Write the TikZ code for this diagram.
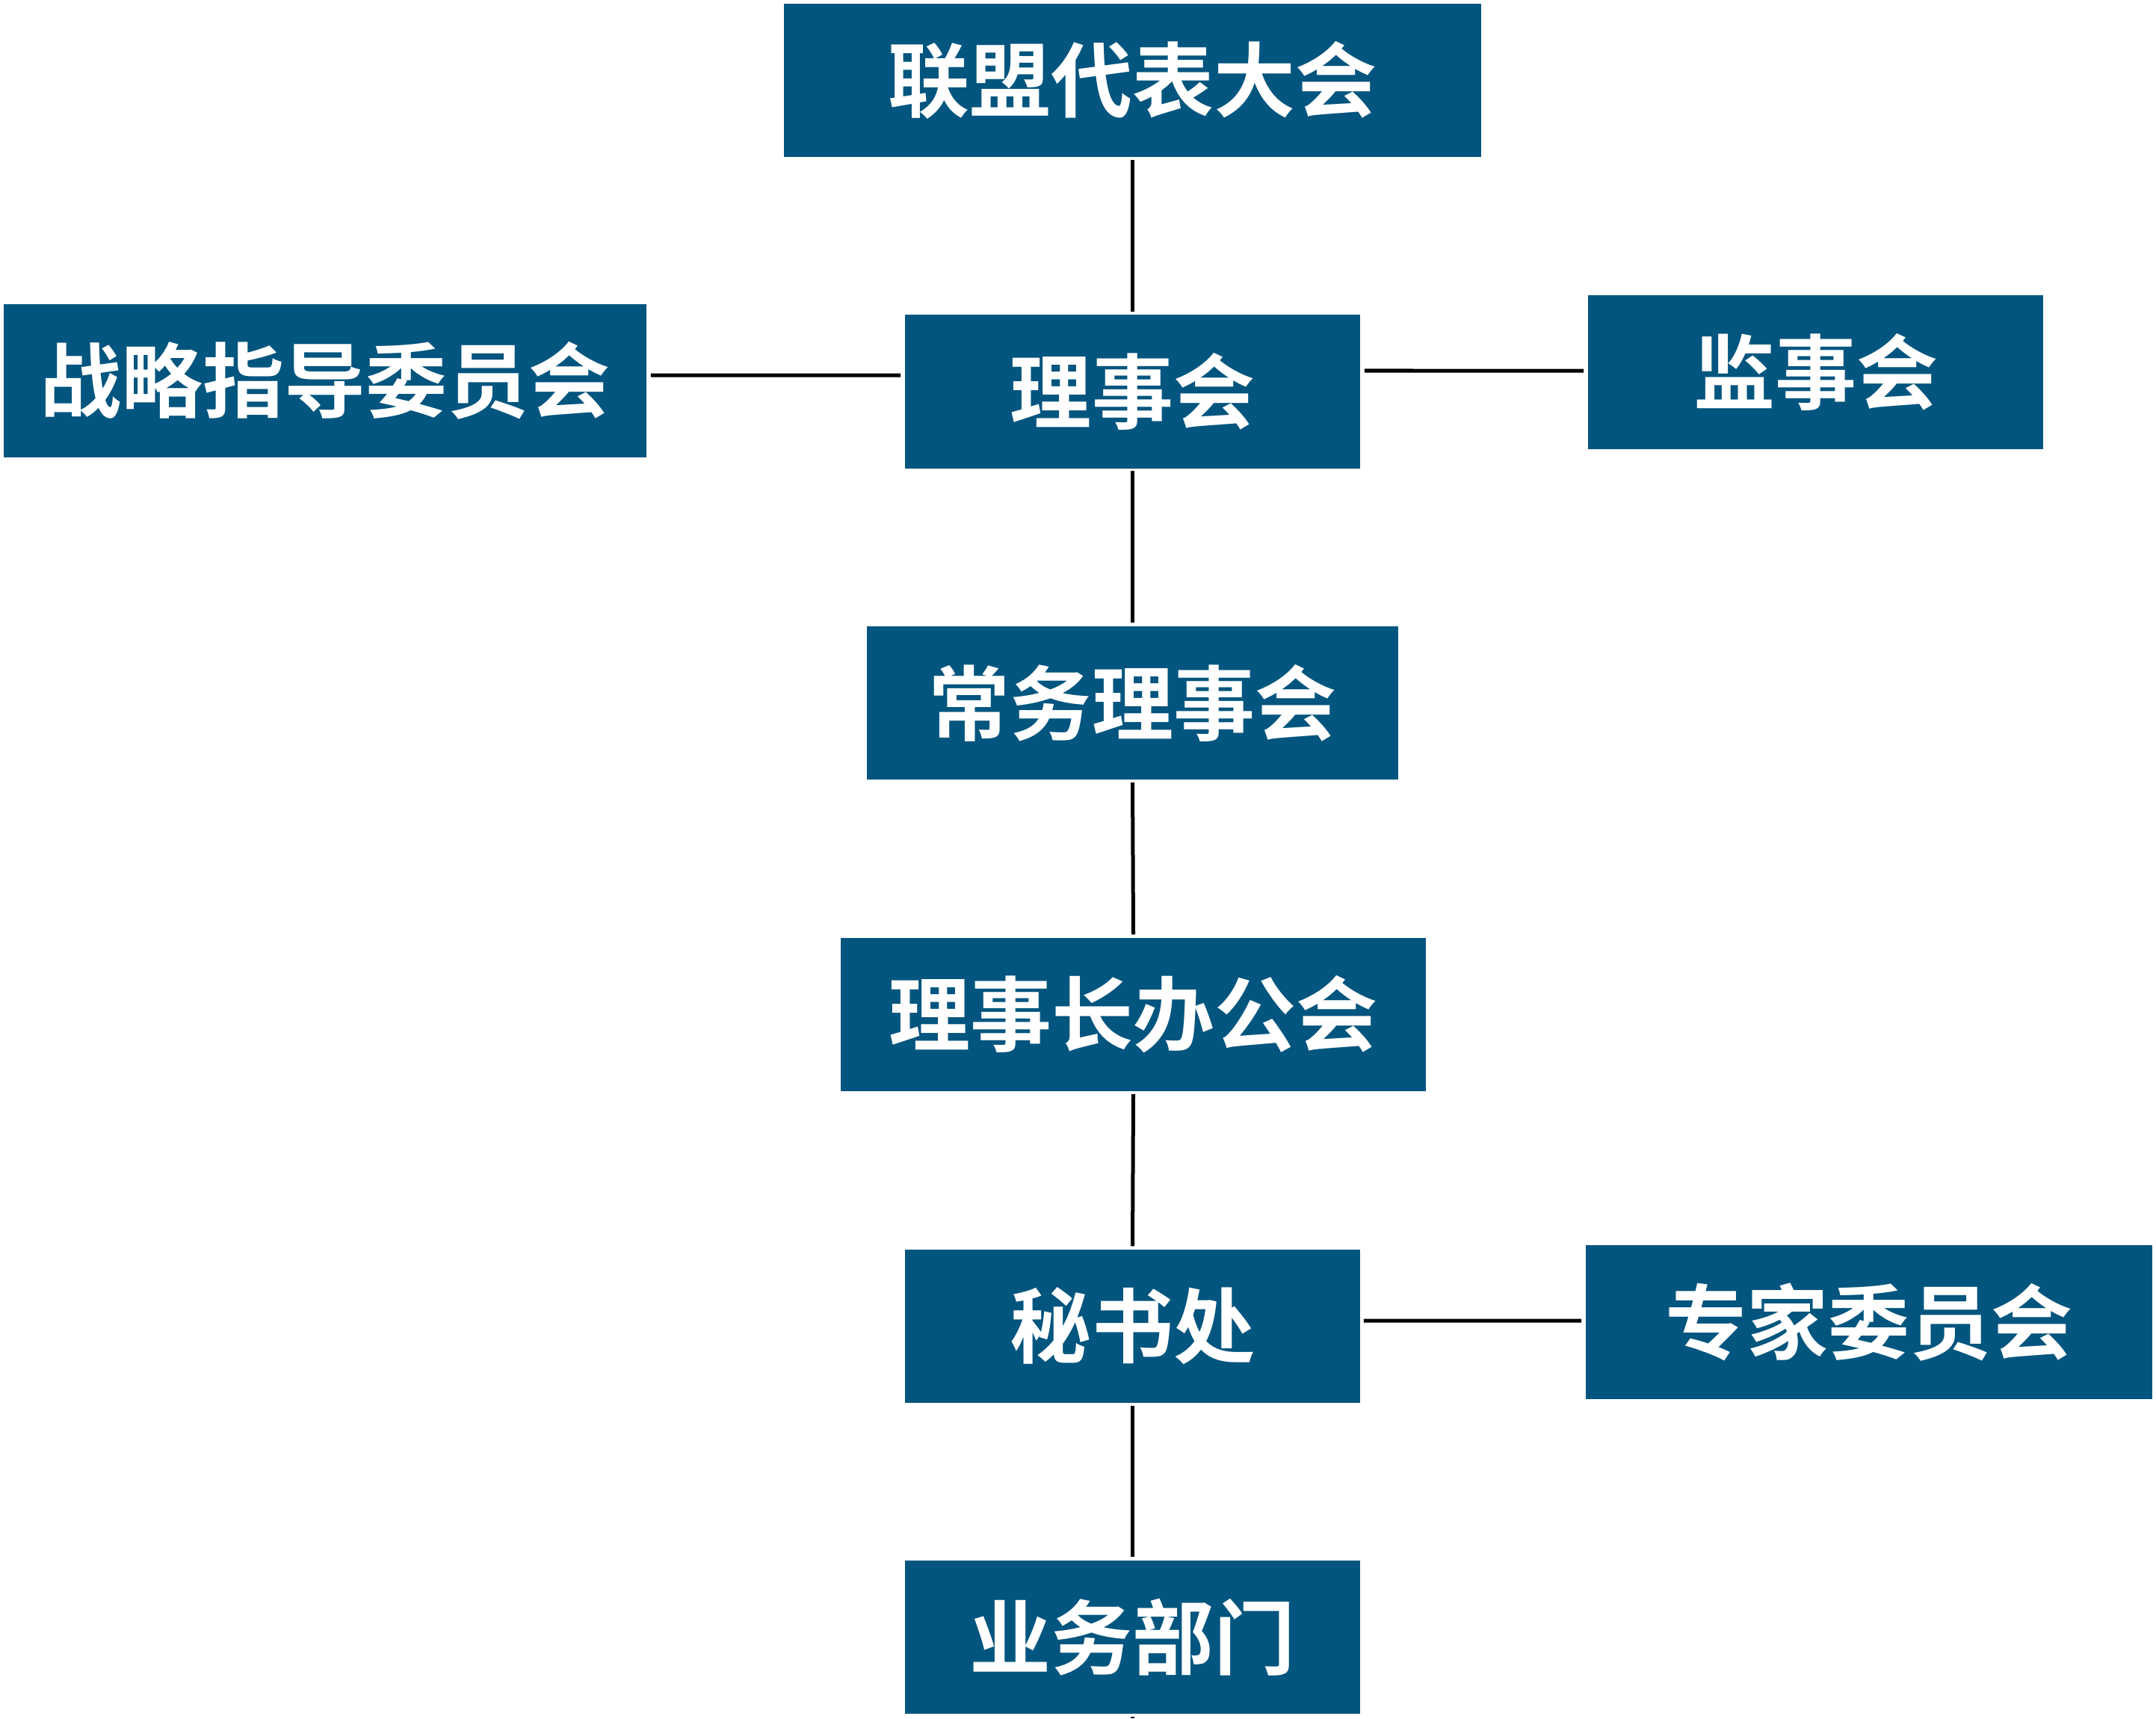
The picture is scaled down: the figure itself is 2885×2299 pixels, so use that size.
\documentclass[tikz,border=0pt]{standalone}
\usepackage{fontspec}
\newfontfamily\cjk{Noto Sans CJK SC}[BoldFont={Noto Sans CJK SC Bold}]
\definecolor{boxblue}{RGB}{2,85,126}
\begin{document}
\begin{tikzpicture}[x=0.01cm,y=-0.01cm,
  orgbox/.style={fill=boxblue,draw=none,inner sep=0pt,minimum height=2.05cm,
    text=white,font=\cjk\bfseries\fontsize{31pt}{31pt}\selectfont},
  conn/.style={draw=black,line width=0.05cm}]
\useasboundingbox (0,0) rectangle (2885,2299);
\node[orgbox,minimum width=9.33cm] (dh)  at (1515.5,107.5) {联盟代表大会};
\node[orgbox,minimum width=8.60cm] (zl)  at (435,509.5)   {战略指导委员会};
\node[orgbox,minimum width=6.09cm] (lsh) at (1515.5,524)  {理事会};
\node[orgbox,minimum width=6.09cm] (jsh) at (2429.5,498)  {监事会};
\node[orgbox,minimum width=7.11cm] (cw)  at (1515.5,940.5) {常务理事会};
\node[orgbox,minimum width=7.83cm] (lzb) at (1516.5,1357.5) {理事长办公会};
\node[orgbox,minimum width=6.09cm] (msc) at (1515.5,1774.5) {秘书处};
\node[orgbox,minimum width=7.58cm] (zj)  at (2501,1769)   {专家委员会};
\node[orgbox,minimum width=6.09cm] (yw)  at (1515.5,2190.5) {业务部门};
\coordinate (bot) at (1515.5,2299);
% vertical connectors
\draw[conn] ([yshift=-0.03cm]dh.south) -- ([yshift=0.04cm]lsh.north);
\draw[conn] ([yshift=-0.03cm]lsh.south) -- ([yshift=0.04cm]cw.north);
\draw[conn] ([yshift=-0.03cm]cw.south) -- ([yshift=0.04cm]lzb.north);
\draw[conn] ([yshift=-0.03cm]lzb.south) -- ([yshift=0.04cm]msc.north);
\draw[conn] ([yshift=-0.03cm]msc.south) -- ([yshift=0.04cm]yw.north);
\draw[conn] ([yshift=-0.03cm]yw.south) -- (bot);
% horizontal connectors
\draw[conn] ([xshift=0.05cm,yshift=0.075cm]zl.east) -- ([xshift=-0.05cm,yshift=0.22cm]lsh.west);
\draw[conn] ([xshift=0.05cm,yshift=0.28cm]lsh.east) -- ([xshift=-0.05cm,yshift=0.02cm]jsh.west);
\draw[conn] ([xshift=0.04cm,yshift=0.075cm]msc.east) -- ([xshift=-0.05cm,yshift=0.02cm]zj.west);
\end{tikzpicture}
\end{document}
